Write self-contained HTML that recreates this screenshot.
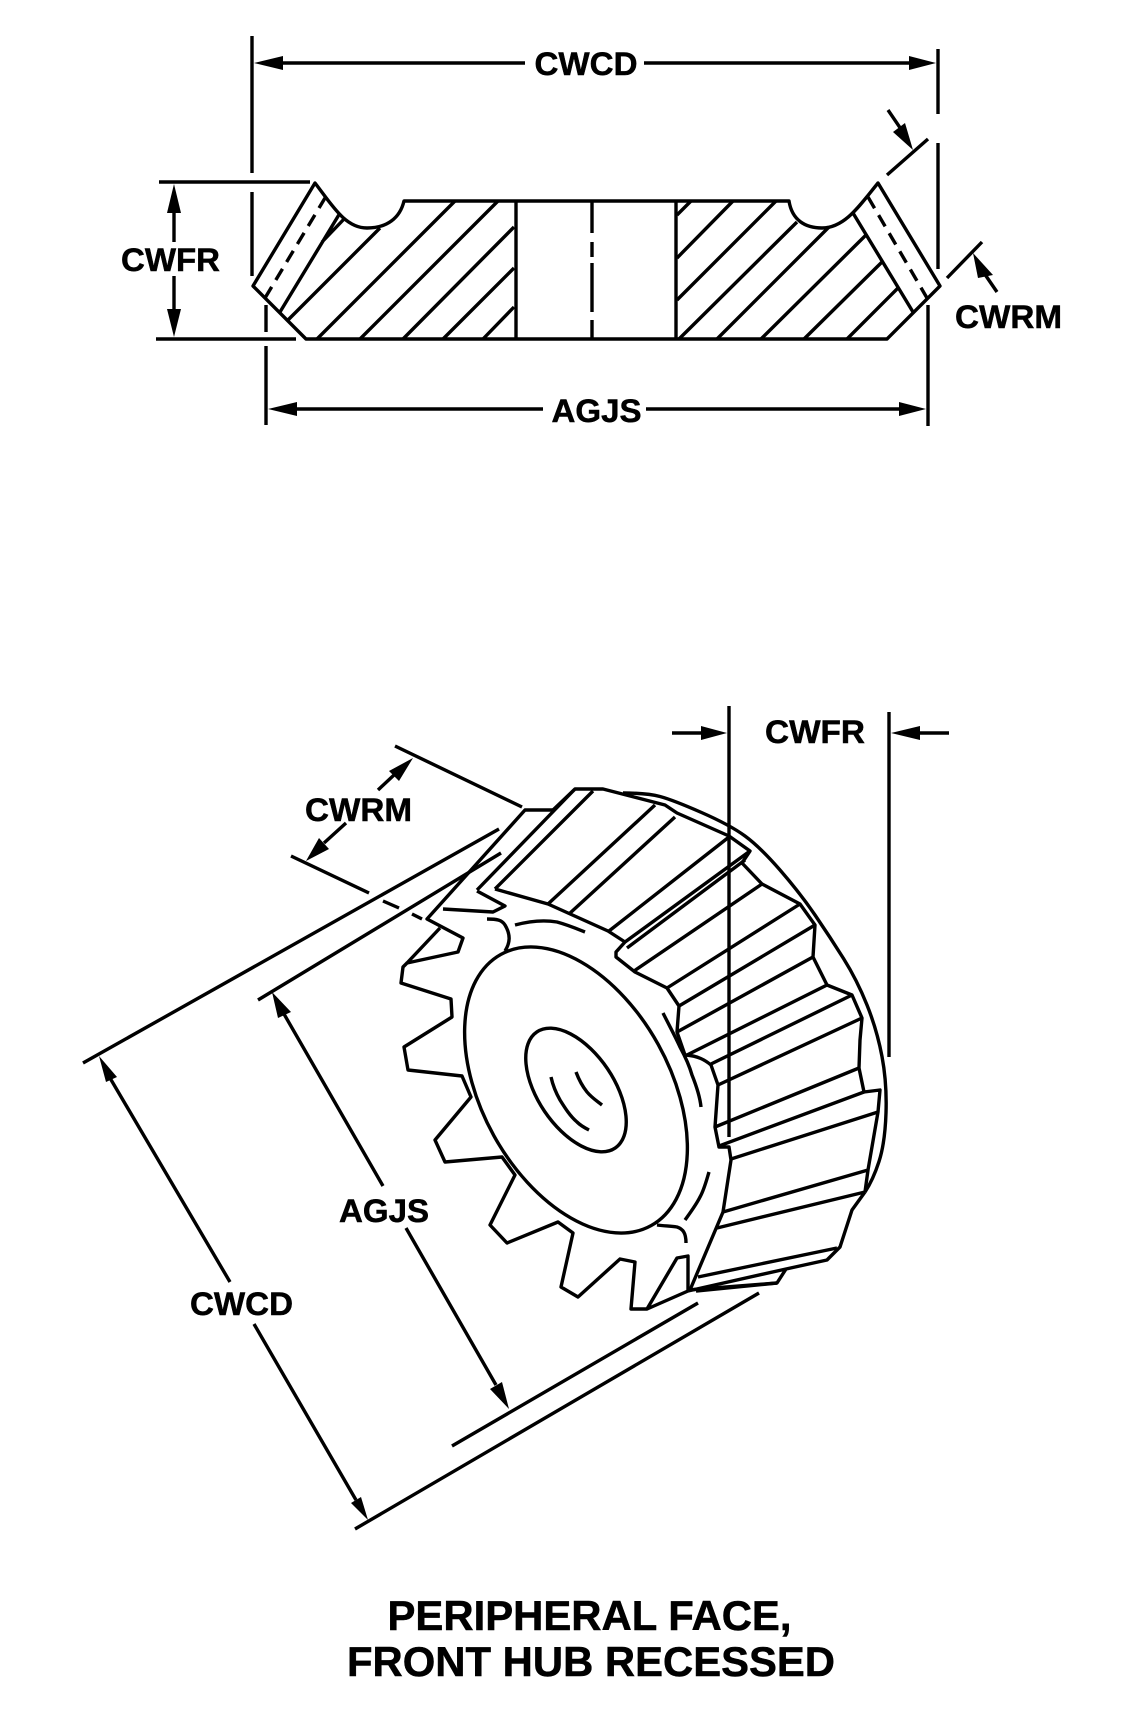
<!DOCTYPE html>
<html>
<head>
<meta charset="utf-8">
<style>
html,body{margin:0;padding:0;background:#fff;}
svg{display:block;}
text{font-family:"Liberation Sans",Arial,sans-serif;font-weight:bold;fill:#000;stroke:#000;stroke-width:0.5px;}
</style>
</head>
<body>
<svg width="1144" height="1718" viewBox="0 0 1144 1718" xmlns="http://www.w3.org/2000/svg">
<rect width="1144" height="1718" fill="#fff"/>
<g fill="none" stroke="#000" stroke-width="3.4" stroke-linejoin="round" stroke-linecap="butt">
<!-- TOP: extension lines -->
<path d="M252 36V173M252 192V276"/>
<path d="M938 49V114M938 143V269"/>
<path d="M159 182H310M156 339H296"/>
<path d="M266 305V332M266 346V425"/>
<path d="M928 305V426"/>
<!-- TOP: dim lines -->
<path d="M283 63H525M644 63H909"/>
<path d="M297 409H543M646 409H899"/>
<path d="M174 213V242M174 276V309"/>
<path d="M888 110L905 135M887 175L928 139"/>
<path d="M947 278L982 242M984 273L997 292"/>
<!-- TOP: profile -->
<path d="M315 183L253 286L306 339H887L940 286L878 183C860 205 845 228 822 228C805 228 792 220 789 201H404C400 218 387 228 367 228C345 228 332 205 315 183Z"/>
<path d="M516 201V339M676 201V339"/>
<path d="M592 201V233M592 242V257M592 263V312M592 320V339"/>
<!-- TOP: hatching -->
<path d="M288 320L380 228M317 339L455 201M360 339L498 201M403 339L514 227M443 339L514 268M483 339L514 307"/>
<path d="M677 215L691 201M677 258L733 201M677 300L776 201M679 339L797 222M717 339L829 227M761 339L867 234M804 339L882 262M847 339L898 288"/>
<path d="M280 312L340 213M322 242L345 218M853 213L913 312"/>
<path d="M265 298L325 198M868 197L927 298" stroke-dasharray="13 8"/>
<!-- LOWER: dimension lines -->
<path d="M395 746L522 807M291 856L369 893M383 901L399 908M412 914L422 919"/>
<path d="M378 790L394 775M346 823L324 843"/>
<path d="M499 829L83 1063M501 853L258 1000M698 1303L452 1446M759 1293L355 1529"/>
<path d="M230 1282L110 1078M383 1186L284 1014M406 1228L496 1385M254 1324L356 1500"/>
<path d="M729 706V1137M889 712V1057M672 733H701M920 733H949"/>
<!-- LOWER: gear teeth outline -->
<path d="M553 810H525L427 919L463 938L458 952L407 963L403 967L401 983L451 999L452 1017L404 1047L408 1070L462 1076L471 1097L435 1140L445 1162L502 1157L515 1175L490 1225L507 1243L558 1222L573 1233L561 1287L578 1297L620 1259L635 1262L631 1309H647L677 1258L688 1256V1290L777 1283L786 1269L827 1260L840 1247L852 1210L865 1192"/>
<path d="M440 928L407 963"/>
<path d="M647 1309L688 1291"/>
<path d="M553 810L575 789H603L665 805L677 813L729 836L750 851L742 863L762 884L800 904L815 925L813 957L827 985L852 995L862 1018L860 1040L859 1068L864 1092L880 1090L878 1112L868 1170L865 1192"/>
<!-- outer rim -->
<path d="M623 793Q647 793 660 796.5Q673 800 701.5 812.5Q730 825 745 836Q760 847 780 870Q800 893 815 915Q830 937 843.5 958.5Q857 980 867 1005Q877 1030 882 1056.5Q887 1083 886 1113Q885 1143 879 1161.5Q873 1180 865 1192"/>
<!-- top-tooth lengthwise lines -->
<path d="M575 789L477 890M593 791L495 889M655 805L548 904M675 817L569 914M729 837L609 931M750 851L625 942L616 952L616 957L635 972L667 988L679 1006L677 1032L685 1055"/>
<path d="M745 860L627 948"/>
<path d="M762 884L634 971M800 904L667 988M815 925L679 1006M813 957L677 1032M827 985L687 1055M852 995L711 1064M862 1018L718 1085M859 1068L715 1127M864 1092L719 1146M878 1112L731 1159M868 1170L723 1212M865 1192L717 1228"/>
<path d="M686 1055C698 1056 705 1060 711 1065L718 1085L715 1127L719 1147H729L731 1160L723 1212L690 1290"/>
<path d="M698 1277L837 1248M688 1291L786 1269"/>
<path d="M696 1291L777 1283"/>
<!-- front details -->
<path d="M477 891L505 906L493 912L443 909"/>
<path d="M495 889L548 904L608 931L625 942"/>
<path d="M487 919C497 919 502 920 505 925C511 935 510 943 505 951"/>
<path d="M515 925C530 921 545 920 557 922C568 925 575 928 585 932"/>
<!-- hub ellipse -->
<ellipse cx="576" cy="1090" rx="155" ry="94" transform="rotate(61 576 1090)"/>
<!-- bore -->
<ellipse cx="576" cy="1090" rx="70" ry="38" transform="rotate(56 576 1090)"/>
<path d="M551 1077C553 1086 556 1093 560 1100C565 1108 570 1116 577 1122C581 1126 585 1128 589 1130"/>
<path d="M576 1072C579 1080 583 1087 587 1092C592 1098 597 1101 602 1105"/>
<!-- ring arcs -->
<path d="M663 1013C669 1025 675 1036 680 1047C686 1058 690 1068 692 1075C696 1085 700 1097 701 1107"/>
<path d="M709 1172C706 1182 704 1190 700 1197C696 1205 690 1213 685 1220"/>
<path d="M657 1225C665 1226 670 1226 677 1227C683 1229 686 1233 686 1243"/>
</g>
<!-- arrowheads -->
<g fill="#000" stroke="none">
<polygon points="254,63 283,56 283,70"/>
<polygon points="936,63 909,56 909,70"/>
<polygon points="268,409 297,402 297,416"/>
<polygon points="926,409 899,402 899,416"/>
<polygon points="174,184 167,213 181,213"/>
<polygon points="174,337 167,309 181,309"/>
<polygon points="913,150 893,132 905,123"/>
<polygon points="973,253 978,278 993,275"/>
<polygon points="413,758 389,771 399,781"/>
<polygon points="306,861 319,838 329,849"/>
<polygon points="99,1056 106,1082 117,1077"/>
<polygon points="272,992 278,1018 291,1012"/>
<polygon points="509,1409 490,1389 502,1382"/>
<polygon points="368,1520 351,1503 361,1497"/>
<polygon points="727,733 701,726 701,740"/>
<polygon points="891,733 920,726 920,740"/>
</g>
<!-- labels -->
<text x="534.5" y="75" font-size="32" textLength="103" lengthAdjust="spacingAndGlyphs">CWCD</text>
<text x="551.5" y="422" font-size="32" textLength="90" lengthAdjust="spacingAndGlyphs">AGJS</text>
<text x="121" y="271" font-size="32" textLength="99" lengthAdjust="spacingAndGlyphs">CWFR</text>
<text x="955" y="328" font-size="32" textLength="107" lengthAdjust="spacingAndGlyphs">CWRM</text>
<text x="765" y="743" font-size="32" textLength="100" lengthAdjust="spacingAndGlyphs">CWFR</text>
<text x="305" y="821" font-size="32" textLength="107" lengthAdjust="spacingAndGlyphs">CWRM</text>
<text x="339" y="1222" font-size="32" textLength="90" lengthAdjust="spacingAndGlyphs">AGJS</text>
<text x="190" y="1315" font-size="32" textLength="103" lengthAdjust="spacingAndGlyphs">CWCD</text>
<text x="387.5" y="1630" font-size="41.5" textLength="404" lengthAdjust="spacingAndGlyphs">PERIPHERAL FACE,</text>
<text x="347" y="1676" font-size="41.5" textLength="488" lengthAdjust="spacingAndGlyphs">FRONT HUB RECESSED</text>
</svg>
</body>
</html>
